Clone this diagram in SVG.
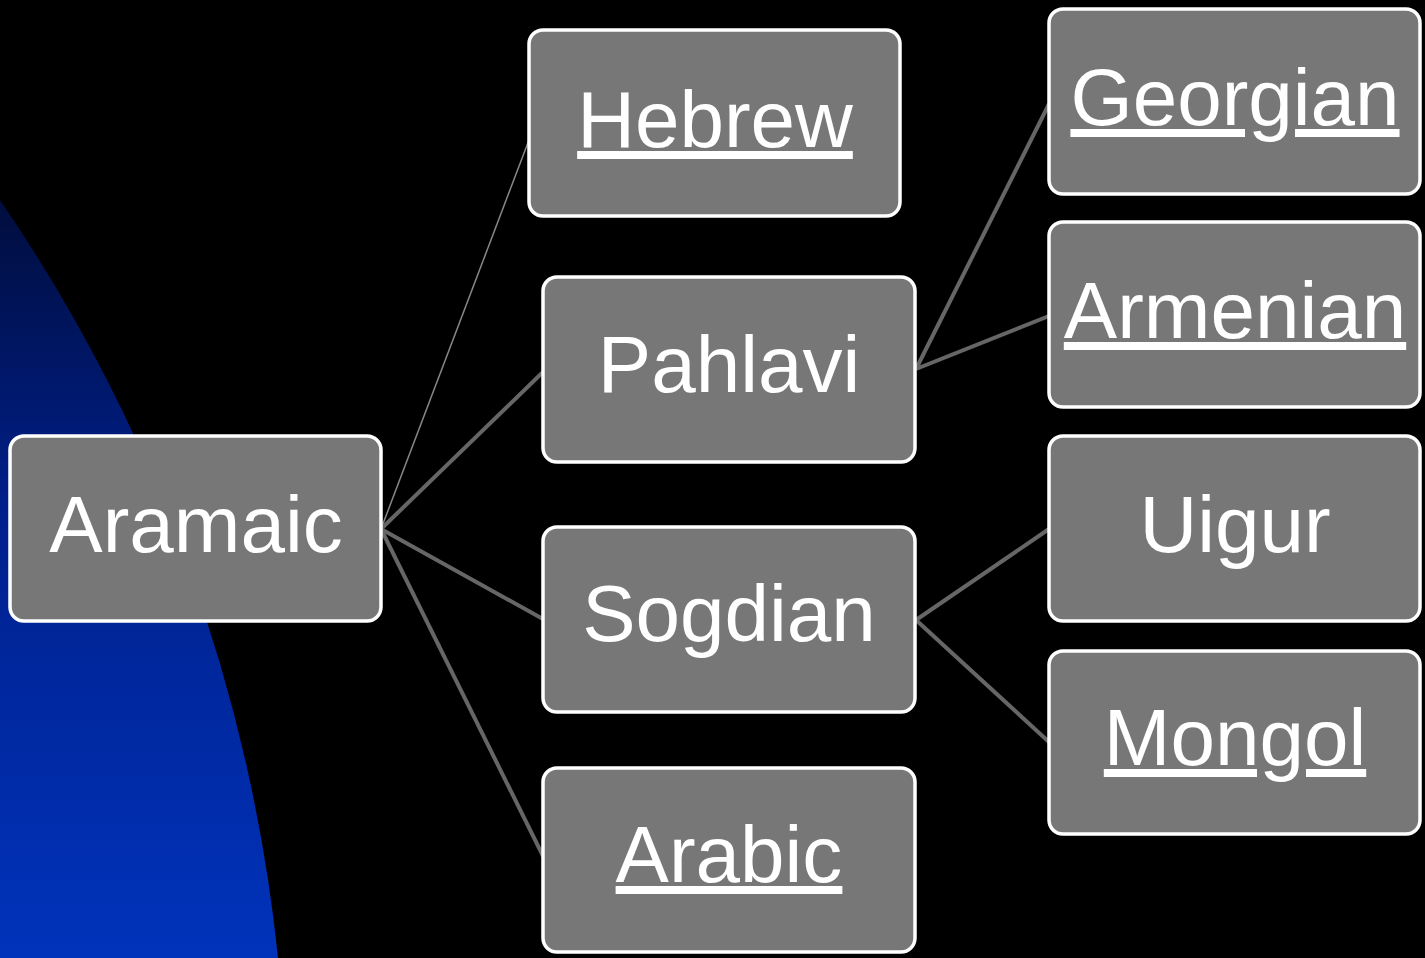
<svg xmlns="http://www.w3.org/2000/svg" width="1425" height="958" viewBox="0 0 1425 958">
<defs>
<linearGradient id="bg" x1="0" y1="150" x2="0" y2="958" gradientUnits="userSpaceOnUse">
<stop offset="0" stop-color="#000a30"/>
<stop offset="0.45" stop-color="#00208c"/>
<stop offset="1" stop-color="#0033bb"/>
</linearGradient>
<style>
.box{fill:#777777;stroke:#ffffff;stroke-width:3.5}
.lbl{font-family:"Liberation Sans",Arial,sans-serif;font-size:80px;fill:#ffffff;text-anchor:middle}
.u{text-decoration:underline;text-decoration-skip-ink:none}
.c{stroke:#666666;stroke-width:4;fill:none}
.thin{stroke:#888888;stroke-width:1.5;fill:none}
</style>
</defs>
<rect x="0" y="0" width="1425" height="958" fill="#000000"/>
<path d="M0 200 A1640 1640 0 0 1 278 958 L0 958 Z" fill="url(#bg)"/>
<g id="connectors">
<line class="thin" x1="381" y1="529" x2="529" y2="140"/>
<line class="c" x1="381" y1="529" x2="543" y2="372"/>
<line class="c" x1="381" y1="529" x2="543" y2="619"/>
<line class="c" x1="381" y1="529" x2="543" y2="856"/>
<line class="c" x1="916" y1="369" x2="1049" y2="104"/>
<line class="c" x1="916" y1="369" x2="1049" y2="316"/>
<line class="c" x1="916" y1="620" x2="1049" y2="529"/>
<line class="c" x1="916" y1="620" x2="1049" y2="742"/>
</g>
<g id="aramaic"><rect class="box" x="10" y="436" width="371" height="185" rx="14"/><text class="lbl" x="196" y="552">Aramaic</text></g>
<g id="hebrew"><rect class="box" x="529" y="30" width="371" height="186" rx="14"/><text class="lbl u" x="715" y="147">Hebrew</text></g>
<g id="pahlavi"><rect class="box" x="543" y="277" width="372" height="185" rx="14"/><text class="lbl" x="729" y="392">Pahlavi</text></g>
<g id="sogdian"><rect class="box" x="543" y="527" width="372" height="185" rx="14"/><text class="lbl" x="729" y="641">Sogdian</text></g>
<g id="arabic"><rect class="box" x="543" y="768" width="372" height="184" rx="14"/><text class="lbl u" x="729" y="882">Arabic</text></g>
<g id="georgian"><rect class="box" x="1049" y="9" width="371" height="185" rx="14"/><text class="lbl u" x="1235" y="125">Georgian</text></g>
<g id="armenian"><rect class="box" x="1049" y="222" width="371" height="185" rx="14"/><text class="lbl u" x="1235" y="338">Armenian</text></g>
<g id="uigur"><rect class="box" x="1049" y="436" width="371" height="185" rx="14"/><text class="lbl" x="1235" y="552">Uigur</text></g>
<g id="mongol"><rect class="box" x="1049" y="651" width="371" height="183" rx="14"/><text class="lbl u" x="1235" y="765">Mongol</text></g>
</svg>
